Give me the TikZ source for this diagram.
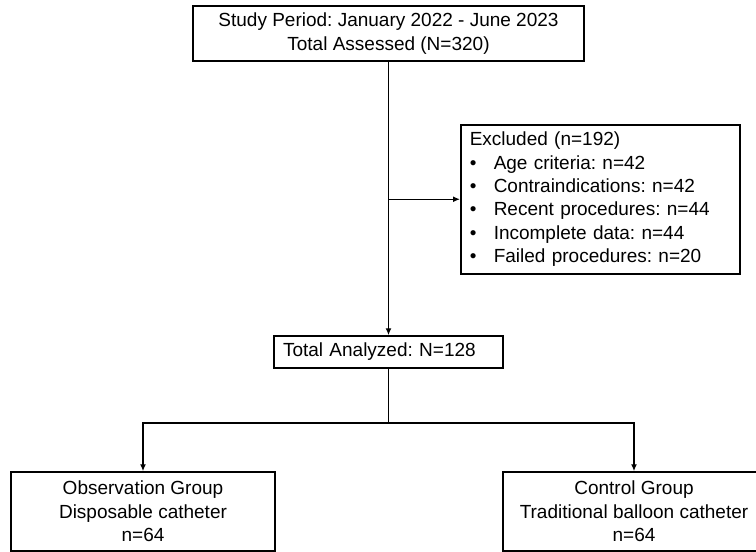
\documentclass[tikz,border=0pt]{standalone}
\usepackage{fontspec}
\setmainfont{Liberation Sans}
\usetikzlibrary{arrows.meta}
\frenchspacing

\begin{document}
\begin{tikzpicture}[x=1pt, y=-1pt,
        box/.style={draw, line width=1.5pt, inner sep=0pt, font=\fontsize{19pt}{23.3pt}\selectfont},
        arr/.style={line width=1.5pt, -{Latex[length=7pt,width=6pt]}}]

        \useasboundingbox (0,0) rectangle (756,552);

        \node[box, align=center, minimum width=391pt, minimum height=55pt] (study) at (388.5, 33.5)
            {Study Period: January 2022 - June 2023\\Total Assessed (N=320)};

        \node[box, anchor=north west, align=left, text width=261pt, inner xsep=9pt,
              minimum width=279pt, minimum height=149pt] (excl) at (460, 124)
            {Excluded (n=192)\\
             \makebox[24pt][l]{\textbullet}Age criteria: n=42\\
             \makebox[24pt][l]{\textbullet}Contraindications: n=42\\
             \makebox[24pt][l]{\textbullet}Recent procedures: n=44\\
             \makebox[24pt][l]{\textbullet}Incomplete data: n=44\\
             \makebox[24pt][l]{\textbullet}Failed procedures: n=20};

        \node[box, align=left, text width=211pt, inner xsep=9pt,
              minimum width=229pt, minimum height=32pt] (total) at (388.5, 352)
            {Total Analyzed: N=128};

        \node[box, align=center, minimum width=264pt, minimum height=79pt] (obs) at (143, 511.5)
            {Observation Group\\Disposable catheter\\n=64};

        \node[box, align=center, minimum width=262pt, minimum height=79pt] (ctrl) at (634, 511.5)
            {Control Group\\Traditional balloon catheter\\n=64};

        \coordinate (split) at (388.5, 423);

        \draw[arr] (study) -- (total);
        \draw[arr] (study.south |- excl.west) -- (excl.west);
        \draw[line width=1.5pt] (total) -- (split);
        \draw[arr] (split) -| (obs);
        \draw[arr] (split) -| (ctrl);

\end{tikzpicture}
\end{document}
